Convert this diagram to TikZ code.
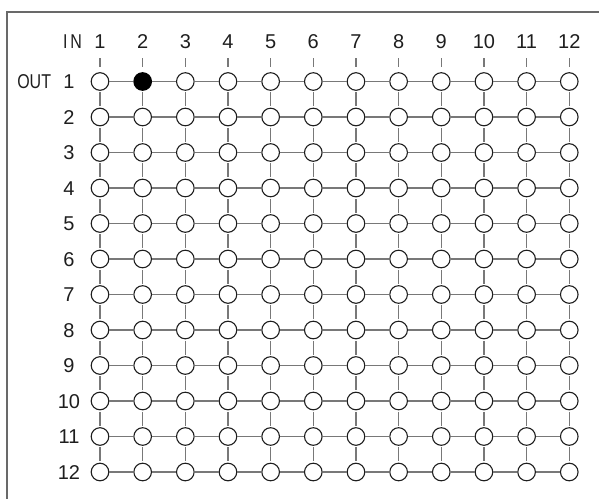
\documentclass[tikz,border=0pt]{standalone}
\usepackage{fontspec}
\setmainfont{Liberation Sans}
\newfontfamily\narrowfont[FakeStretch=0.8]{Liberation Sans}
\usetikzlibrary{positioning}
\definecolor{mydark}{RGB}{30,30,30}
\definecolor{mygrid}{RGB}{120,120,120}
\definecolor{myframe}{RGB}{105,105,105}
\tikzset{
  xpoint/.style={circle,draw=mydark,fill=white,minimum size=17.6pt,inner sep=0pt,line width=1.1pt},
  onpoint/.style={xpoint,fill=black,draw=black},
  numlabel/.style={font=\fontsize{20}{20}\selectfont,text=mydark,inner sep=0pt},
  wordlabel/.style={font=\narrowfont\fontsize{20}{20}\selectfont,text=mydark,inner sep=0pt},
  link/.style={mygrid,line width=1.3pt}
}
\begin{document}
\begin{tikzpicture}[x=1pt,y=-1pt]
  \useasboundingbox (0,0) rectangle (599,498);

  % Frame (runs off the right and bottom edges)
  \draw[myframe,line width=1.5pt] (7,530) -- (7,12) -- (630,12);

  % Crosspoints
  \foreach \r in {1,...,12}
    \foreach \c in {1,...,12}{
      \def\pst{xpoint}
      \ifnum\r=1 \ifnum\c=2 \def\pst{onpoint}\fi\fi
      \node[\pst] (p\r-\c) at ({100+42.66*(\c-1)},{81.5+35.5*(\r-1)}) {};
    }

  % Horizontal and vertical links
  \foreach \r in {1,...,12}
    \foreach \c in {2,...,12}{
      \pgfmathtruncatemacro\cprev{\c-1}
      \draw[link] (p\r-\cprev.east) -- (p\r-\c.west);
    }
  \foreach \c in {1,...,12}
    \foreach \r in {2,...,12}{
      \pgfmathtruncatemacro\rprev{\r-1}
      \draw[link,shorten <=1.5pt,shorten >=1.5pt] (p\rprev-\c.south) -- (p\r-\c.north);
    }

  % Input labels and ticks
  \foreach \c in {1,...,12}{
    \node[numlabel,anchor=base] (in\c) at ({100+42.66*(\c-1)},48) {\c};
    \draw[link,shorten <=10pt,shorten >=5pt] (in\c.south) -- (p1-\c.north);
  }
  \node[wordlabel,base left=12pt of in1] (inlbl) {I\hspace{3pt}N};

  % Output labels
  \foreach \r in {1,...,12}
    \node[numlabel,anchor=base] (out\r) at (69,{81.5+35.5*(\r-1)+7.2}) {\r};
  \node[wordlabel,base left=12pt of out1] (outlbl) {OUT};
\end{tikzpicture}
\end{document}
